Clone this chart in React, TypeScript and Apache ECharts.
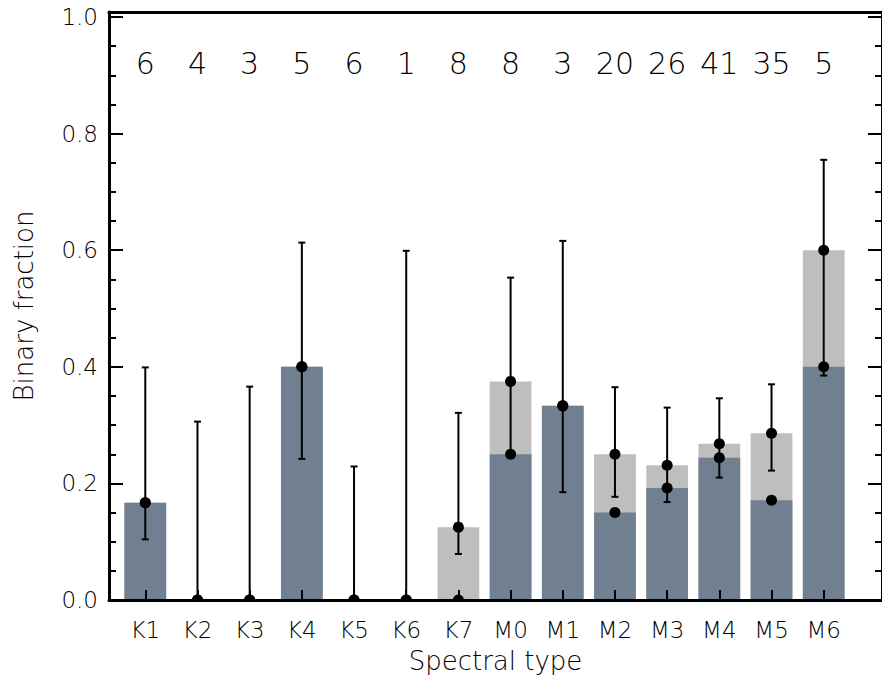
import React, { useEffect, useRef } from 'react';
import * as echarts from 'echarts';

// Spectral types
const categories = ['K1', 'K2', 'K3', 'K4', 'K5', 'K6', 'K7', 'M0', 'M1', 'M2', 'M3', 'M4', 'M5', 'M6'];
// Number of stars per type (printed at top)
const counts = [6, 4, 3, 5, 6, 1, 8, 8, 3, 20, 26, 41, 35, 5];
// Lower binary fraction (dark bars)
const lowerFrac = [0.167, 0, 0, 0.4, 0, 0, 0, 0.25, 0.333, 0.15, 0.192, 0.244, 0.171, 0.4];
// Upper binary fraction (light bars)
const upperFrac = [0.167, 0, 0, 0.4, 0, 0, 0.125, 0.375, 0.333, 0.25, 0.231, 0.268, 0.286, 0.6];
// Error bar limits
const errLow = [0.104, 0, 0, 0.242, 0, 0, 0.079, 0.25, 0.185, 0.177, 0.168, 0.21, 0.222, 0.385];
const errHigh = [0.399, 0.306, 0.366, 0.613, 0.229, 0.599, 0.321, 0.553, 0.616, 0.365, 0.33, 0.346, 0.37, 0.755];

export default function App() {
  const ref = useRef<HTMLDivElement>(null);
  useEffect(() => {
    document.body.style.margin = '0';
    const chart = echarts.init(ref.current!, null, { renderer: 'svg' });
    const font = 'DejaVu Sans';
    const fw = 200;
    const yMax = 1.0086;
    const axisLineStyle = { color: '#000', width: 3 };
    const tickStyle = { color: '#000', width: 2 };
    const errData = categories.map((_, i) => [i, errLow[i], errHigh[i], lowerFrac[i], upperFrac[i]]);

    chart.setOption({
      animation: false,
      backgroundColor: '#fff',
      grid: [
        { left: 119.2, right: 32.2, top: 12, bottom: 84 },
        { left: 109, right: -5, top: 12, bottom: 84 },
      ],
      xAxis: [
        {
          type: 'category', gridIndex: 0, data: categories, position: 'bottom',
          axisLine: { show: false, onZero: false },
          axisTick: { show: true, inside: true, alignWithLabel: true, length: 10, lineStyle: tickStyle },
          axisLabel: { color: '#000', fontSize: 23, fontFamily: font, fontWeight: fw, margin: 18, interval: 0 },
          splitLine: { show: false },
          z: 5,
        },
        {
          type: 'category', gridIndex: 0, data: counts.map(String), position: 'top',
          axisLine: { show: false, onZero: false }, axisTick: { show: false },
          axisLabel: { inside: true, margin: 36, fontSize: 30, color: '#000', fontFamily: font, fontWeight: fw, interval: 0 },
          splitLine: { show: false },
          z: 5,
        },
        {
          type: 'value', gridIndex: 1, min: 0, max: 1, position: 'bottom',
          axisLine: { show: true, onZero: false, lineStyle: axisLineStyle },
          axisTick: { show: false }, axisLabel: { show: false }, splitLine: { show: false },
          name: 'Spectral type', nameLocation: 'middle', nameGap: 48,
          nameTextStyle: { color: '#000', fontSize: 26, fontFamily: font, fontWeight: fw },
          z: 5,
        },
        {
          type: 'value', gridIndex: 1, min: 0, max: 1, position: 'top',
          axisLine: { show: true, onZero: false, lineStyle: axisLineStyle },
          axisTick: { show: false }, axisLabel: { show: false }, splitLine: { show: false },
          z: 5,
        },
      ],
      yAxis: [
        { type: 'value', gridIndex: 0, min: 0, max: yMax, show: false },
        {
          type: 'value', gridIndex: 1, min: 0, max: yMax, interval: 0.2, position: 'left',
          axisLine: { show: true, onZero: false, lineStyle: axisLineStyle },
          axisTick: { show: true, inside: true, length: 14, lineStyle: tickStyle },
          minorTick: { show: true, splitNumber: 4, length: 7, lineStyle: tickStyle },
          axisLabel: {
            color: '#000', fontSize: 23, fontFamily: font, fontWeight: fw, margin: 11, showMaxLabel: false,
            formatter: (v: number) => v.toFixed(1),
          },
          splitLine: { show: false },
          name: 'Binary fraction', nameLocation: 'middle', nameGap: 72,
          nameTextStyle: { color: '#000', fontSize: 26, fontFamily: font, fontWeight: fw },
          z: 5,
        },
        {
          type: 'value', gridIndex: 1, min: 0, max: yMax, interval: 0.2, position: 'right',
          axisLine: { show: true, onZero: false, lineStyle: axisLineStyle },
          axisTick: { show: true, inside: true, length: 14, lineStyle: tickStyle },
          minorTick: { show: true, splitNumber: 4, length: 7, lineStyle: tickStyle },
          axisLabel: { show: false },
          splitLine: { show: false },
          z: 5,
        },
      ],
      series: [
        {
          type: 'bar', xAxisIndex: 0, yAxisIndex: 0, data: upperFrac,
          barWidth: '80%', barGap: '-100%', itemStyle: { color: '#bebebe' }, z: 2,
        },
        {
          type: 'bar', xAxisIndex: 0, yAxisIndex: 0, data: lowerFrac,
          barWidth: '80%', barGap: '-100%', itemStyle: { color: '#708090' }, z: 2,
        },
        {
          type: 'custom', xAxisIndex: 0, yAxisIndex: 0, data: errData, clip: true, z: 3,
          encode: { x: 0, y: [1, 2, 3, 4] },
          renderItem: (params: any, api: any) => {
            const x = api.value(0);
            const pLo = api.coord([x, api.value(1)]);
            const pHi = api.coord([x, api.value(2)]);
            const pA = api.coord([x, api.value(3)]);
            const pB = api.coord([x, api.value(4)]);
            const cap = 3.5;
            const ls = { stroke: '#000', lineWidth: 2 };
            return {
              type: 'group',
              children: [
                { type: 'line', shape: { x1: pLo[0], y1: pLo[1], x2: pHi[0], y2: pHi[1] }, style: ls },
                { type: 'line', shape: { x1: pLo[0] - cap, y1: pLo[1], x2: pLo[0] + cap, y2: pLo[1] }, style: ls },
                { type: 'line', shape: { x1: pHi[0] - cap, y1: pHi[1], x2: pHi[0] + cap, y2: pHi[1] }, style: ls },
                { type: 'circle', shape: { cx: pA[0], cy: pA[1], r: 5.5 }, style: { fill: '#000' } },
                { type: 'circle', shape: { cx: pB[0], cy: pB[1], r: 5.5 }, style: { fill: '#000' } },
              ],
            };
          },
        },
      ],
    });
    return () => chart.dispose();
  }, []);
  return <div ref={ref} style={{ position: 'fixed', left: 0, top: 0, width: 882, height: 684 }} />;
}
